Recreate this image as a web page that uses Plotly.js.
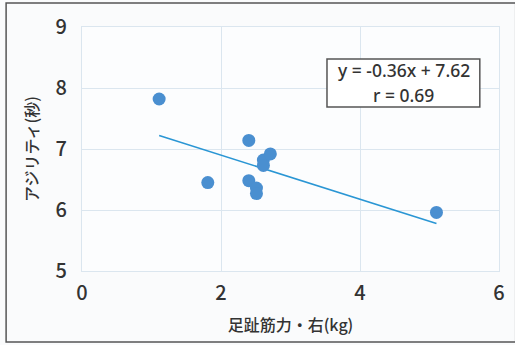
<!DOCTYPE html>
<html>
<head>
<meta charset="utf-8">
<script src="https://cdn.plot.ly/plotly-3.0.1.min.js"></script>
<style>
html,body{margin:0;padding:0;background:#fafbfc;}
#chart{width:515px;height:345px;}
</style>
</head>
<body>
<div id="chart"></div>
<script>
// Data
const strengthKg = [1.11, 1.81, 2.40, 2.40, 2.51, 2.51, 2.61, 2.61, 2.71, 5.10];
const agilitySec = [7.82, 6.45, 7.14, 6.48, 6.36, 6.27, 6.82, 6.73, 6.92, 5.96];
const trendX = [1.11, 5.10];
const trendY = [7.22, 5.78];
const xTicks = [0, 2, 4, 6];
const yTicks = [5, 6, 7, 8, 9];
const equationLines = ['y = -0.36x + 7.62', 'r = 0.69'];
const xTitle = '足趾筋力・右(kg)';
const yTitle = 'アジリティ(秒)';

const font = '"Noto Sans CJK JP", "Noto Sans", sans-serif';
const latin = '"Noto Sans", sans-serif';
const traces = [
  {
    x: trendX, y: trendY, mode: 'lines', type: 'scatter',
    line: {color: '#2a96d4', width: 1.6}, hoverinfo: 'skip', showlegend: false
  },
  {
    x: strengthKg, y: agilitySec, mode: 'markers', type: 'scatter',
    marker: {color: '#4a8fd0', size: 13}, showlegend: false
  }
];
const lineYs = [0.822, 0.720];
const layout = {
  width: 515, height: 345,
  margin: {l: 82, r: 16, t: 27, b: 74},
  paper_bgcolor: '#fafbfc', plot_bgcolor: '#fcfdfe',
  font: {family: font, color: '#333'},
  xaxis: {
    range: [0, 6], tickvals: xTicks, ticktext: xTicks.map(String),
    showgrid: true, gridcolor: '#dbe6ef', gridwidth: 1,
    zeroline: false, showline: true, linecolor: '#dbe6ef', mirror: true,
    ticks: 'outside', ticklen: 4, tickcolor: 'rgba(0,0,0,0)',
    tickfont: {size: 20, family: font, color: '#333', weight: 500},
    title: {text: xTitle, font: {size: 16, family: font, color: '#333', weight: 500}, standoff: 14}
  },
  yaxis: {
    range: [5, 9], tickvals: yTicks, ticktext: yTicks.map(String),
    showgrid: true, gridcolor: '#dbe6ef', gridwidth: 1,
    zeroline: false, showline: true, linecolor: '#dbe6ef', mirror: true,
    ticks: 'outside', ticklen: 10, tickcolor: 'rgba(0,0,0,0)',
    tickfont: {size: 20, family: font, color: '#333', weight: 500},
    title: {text: yTitle, font: {size: 16, family: font, color: '#333', weight: 500}, standoff: 12}
  },
  annotations: equationLines.map((t, i) => ({
    xref: 'paper', yref: 'paper', x: 0.771, y: lineYs[i], xanchor: 'center', yanchor: 'middle',
    text: t, showarrow: false, align: 'center',
    font: {size: 17.5, family: latin, color: '#333', weight: 500}
  })),
  shapes: [
    {
      type: 'rect', xref: 'paper', yref: 'paper',
      x0: 0.5875, x1: 0.954, y0: 0.672, y1: 0.869,
      line: {color: '#555', width: 1.5}, fillcolor: '#ffffff', layer: 'above'
    },
    {
      type: 'rect', xref: 'paper', yref: 'paper',
      x0: -0.182, x1: 1.04, y0: -0.291, y1: 1.098,
      line: {color: '#555', width: 1.5}, fillcolor: 'rgba(0,0,0,0)', layer: 'below'
    }
  ]
};
Plotly.newPlot('chart', traces, layout, {displayModeBar: false, staticPlot: true});
</script>
</body>
</html>
